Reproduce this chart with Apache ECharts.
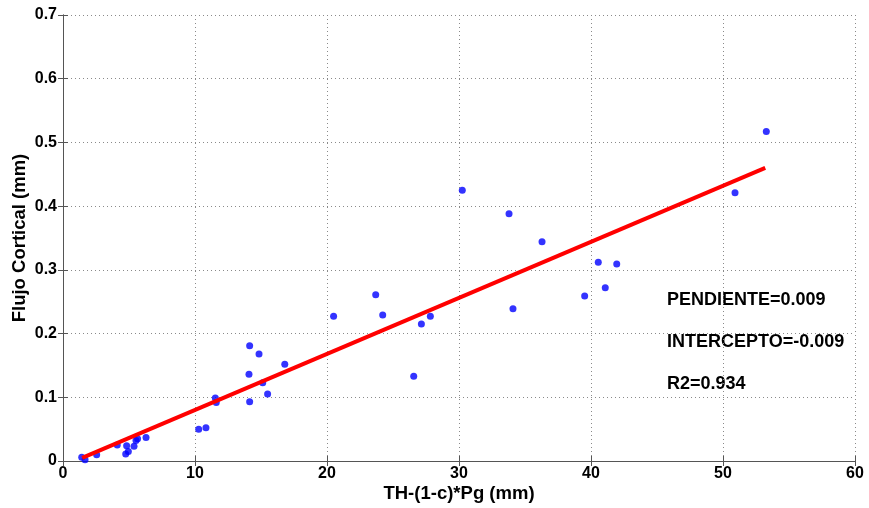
<!DOCTYPE html>
<html>
<head>
<meta charset="utf-8">
<script src="https://cdn.jsdelivr.net/npm/echarts@6/dist/echarts.min.js"></script>
<style>html,body{margin:0;padding:0;background:#fff;}#c{width:869px;height:508px;}</style>
</head>
<body>
<div id="c"></div>
<script>
const xValues = [1.42, 1.67, 2.55, 4.11, 4.82, 4.75, 4.95, 5.38, 5.53, 5.65, 6.29,
  10.28, 10.83, 11.54, 11.61,
  14.14, 14.85, 14.09, 14.14, 15.13, 15.5, 16.8,
  20.5, 23.69, 24.22, 26.57, 27.15, 27.83,
  30.25, 33.79, 36.29, 34.09, 39.52, 40.55, 41.08, 41.95,
  50.91, 53.28];
const yValues = [0.006, 0.002, 0.010, 0.025, 0.024, 0.011, 0.015, 0.023, 0.032, 0.035, 0.037,
  0.050, 0.052, 0.099, 0.092,
  0.181, 0.168, 0.136, 0.093, 0.123, 0.105, 0.152,
  0.227, 0.261, 0.229, 0.133, 0.215, 0.227,
  0.425, 0.388, 0.344, 0.239, 0.259, 0.312, 0.272, 0.309,
  0.421, 0.517];
const fitX = [1.45, 53.2];
const fitY = [0.005, 0.460];
const xTicks = [0, 10, 20, 30, 40, 50, 60];
const yTicks = [0, 0.1, 0.2, 0.3, 0.4, 0.5, 0.6, 0.7];
const annotations = ['PENDIENTE=0.009', 'INTERCEPTO=-0.009', 'R2=0.934'];

const chart = echarts.init(document.getElementById('c'), null, {renderer: 'canvas'});
const fam = '"Liberation Sans", Arial, sans-serif';
const tickFont = {fontFamily: fam, fontWeight: 'bold', fontSize: 16, color: '#000'};
const nameFont = {fontFamily: fam, fontWeight: 'bold', fontSize: 18.5, color: '#000'};
const gridDot = {show: true, lineStyle: {color: '#8a8a8a', type: [1, 3], width: 1}};
const axLine = {show: true, lineStyle: {color: '#555', width: 1}};
const tick = {show: true, inside: true, length: 5, lineStyle: {color: '#555'}};

chart.setOption({
  animation: false,
  grid: {left: 63, right: 14, top: 15, bottom: 47, containLabel: false, outerBoundsMode: 'none'},
  xAxis: [{
    type: 'value', min: xTicks[0], max: xTicks[xTicks.length - 1], interval: 10,
    name: 'TH-(1-c)*Pg (mm)', nameLocation: 'middle', nameGap: 23, nameMoveOverlap: false,
    nameTextStyle: nameFont,
    axisLine: axLine, axisTick: tick, splitLine: gridDot,
    axisLabel: Object.assign({}, tickFont, {margin: 5})
  }, {
    type: 'value', position: 'top', min: 0, max: 60, interval: 10,
    axisLine: axLine, axisTick: tick, splitLine: {show: false}, axisLabel: {show: false}
  }],
  yAxis: [{
    type: 'value', min: yTicks[0], max: yTicks[yTicks.length - 1], interval: 0.1,
    name: 'Flujo Cortical (mm)', nameLocation: 'middle', nameGap: 34, nameMoveOverlap: false,
    nameTextStyle: nameFont,
    axisLine: axLine, axisTick: tick, splitLine: gridDot,
    axisLabel: Object.assign({}, tickFont, {margin: 6, formatter: v => String(+v.toFixed(1))})
  }, {
    type: 'value', position: 'right', min: 0, max: 0.7, interval: 0.1,
    axisLine: axLine, axisTick: tick, splitLine: {show: false}, axisLabel: {show: false}
  }],
  series: [{
    type: 'scatter', symbol: 'circle', symbolSize: 7,
    itemStyle: {color: '#0000ff'},
    data: xValues.map((x, i) => [x, yValues[i]]), z: 3
  }, {
    type: 'line', showSymbol: false, symbol: 'none',
    lineStyle: {color: '#ff0000', width: 4},
    data: fitX.map((x, i) => [x, fitY[i]]), z: 4
  }],
  graphic: annotations.map((t, i) => ({
    type: 'text', x: 667, y: 300 + i * 42,
    style: {text: t, font: 'bold 18px "Liberation Sans", Arial, sans-serif', fill: '#000', verticalAlign: 'middle'}
  }))
});
</script>
</body>
</html>
